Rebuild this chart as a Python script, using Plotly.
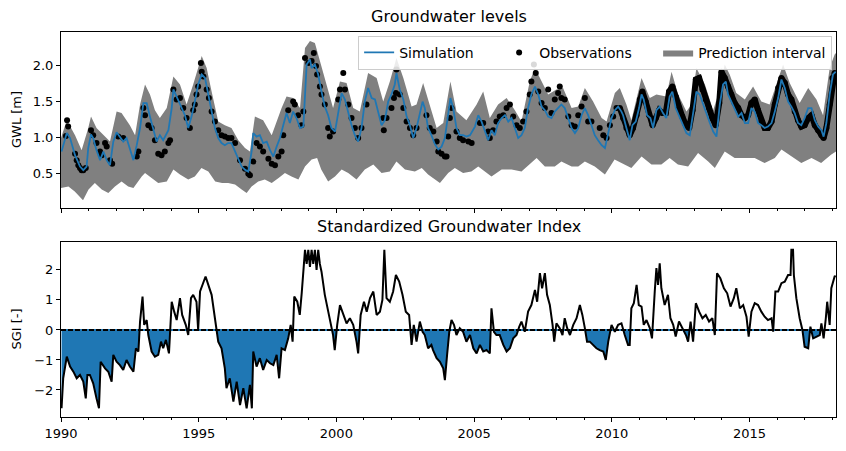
import numpy as np
import pandas as pd
import plotly.graph_objects as go

# ---------------- data (decimal years) -------------
sim_t = [1990.02, 1990.21, 1990.33, 1990.51, 1990.69, 1990.81, 1990.93, 1990.99, 1991.09, 1991.17,
         1991.29, 1991.42, 1991.54, 1991.66, 1991.78, 1991.9, 1992.02, 1992.14, 1992.26, 1992.38,
         1992.5, 1992.63, 1992.75, 1992.87, 1992.99, 1993.11, 1993.23, 1993.35, 1993.47, 1993.59,
         1993.71, 1993.9, 1994.02, 1994.08, 1994.2, 1994.32, 1994.5, 1994.62, 1994.74, 1994.86,
         1994.98, 1995.11, 1995.23, 1995.35, 1995.47, 1995.59, 1995.71, 1995.83, 1995.95, 1996.07,
         1996.19, 1996.38, 1996.56, 1996.7, 1996.8, 1996.92, 1996.98, 1997.1, 1997.22, 1997.34,
         1997.47, 1997.59, 1997.71, 1997.83, 1997.95, 1998.07, 1998.19, 1998.31, 1998.43, 1998.55,
         1998.68, 1998.8, 1998.92, 1999.04, 1999.1, 1999.22, 1999.34, 1999.46, 1999.58, 1999.7,
         1999.82, 1999.95, 2000.07, 2000.19, 2000.31, 2000.43, 2000.55, 2000.67, 2000.79, 2000.91,
         2001.03, 2001.15, 2001.28, 2001.4, 2001.52, 2001.64, 2001.76, 2001.88, 2002.0, 2002.12,
         2002.18, 2002.3, 2002.43, 2002.55, 2002.67, 2002.79, 2002.91, 2003.03, 2003.13, 2003.21,
         2003.33, 2003.45, 2003.58, 2003.7, 2003.82, 2003.94, 2004.06, 2004.14, 2004.24, 2004.36,
         2004.48, 2004.6, 2004.72, 2004.85, 2005.03, 2005.15, 2005.27, 2005.39, 2005.51, 2005.63,
         2005.75, 2005.87, 2006.0, 2006.12, 2006.24, 2006.36, 2006.48, 2006.6, 2006.72, 2006.84,
         2006.96, 2007.08, 2007.21, 2007.33, 2007.45, 2007.57, 2007.69, 2007.81, 2007.93, 2008.05,
         2008.17, 2008.29, 2008.42, 2008.54, 2008.66, 2008.78, 2008.9, 2009.02, 2009.14, 2009.26,
         2009.38, 2009.5, 2009.63, 2009.75, 2009.87, 2009.99, 2010.11, 2010.23, 2010.35, 2010.41,
         2010.53, 2010.65, 2010.75, 2010.87, 2010.99, 2011.08, 2011.16, 2011.28, 2011.4, 2011.5,
         2011.62, 2011.74, 2011.86, 2011.98, 2012.1, 2012.2, 2012.32, 2012.47, 2012.59, 2012.71,
         2012.83, 2012.95, 2013.07, 2013.19, 2013.31, 2013.44, 2013.56, 2013.68, 2013.8, 2013.92,
         2014.04, 2014.14, 2014.22, 2014.34, 2014.46, 2014.59, 2014.71, 2014.83, 2014.95, 2015.07,
         2015.19, 2015.31, 2015.43, 2015.55, 2015.67, 2015.8, 2015.92, 2016.04, 2016.16, 2016.28,
         2016.4, 2016.52, 2016.64, 2016.76, 2016.88, 2017.0, 2017.13, 2017.25, 2017.37, 2017.49,
         2017.61, 2017.69, 2017.79, 2017.91, 2018.03, 2018.13]
sim_v = [0.80, 1.06, 0.99, 0.75, 0.59, 0.54, 0.59, 0.85, 1.04, 0.99,
         0.82, 0.68, 0.80, 0.68, 0.61, 0.94, 1.07, 1.01, 0.94, 0.99,
         0.85, 0.68, 0.89, 1.13, 1.48, 1.48, 1.29, 1.13, 0.94, 1.03,
         0.96, 1.10, 1.41, 1.67, 1.57, 1.46, 1.31, 1.13, 1.29, 1.50,
         1.74, 1.88, 1.83, 1.60, 1.34, 1.13, 0.99, 0.92, 0.89, 0.92,
         0.92, 0.75, 0.59, 0.54, 0.52, 0.80, 1.06, 1.01, 1.03, 0.92,
         0.94, 0.82, 0.73, 0.87, 0.99, 1.17, 1.34, 1.20, 1.36, 1.27,
         1.13, 1.15, 2.02, 2.09, 1.97, 2.02, 1.88, 1.64, 1.43, 1.31,
         1.13, 1.08, 1.36, 1.62, 1.53, 1.34, 1.17, 1.03, 0.94, 1.13,
         1.50, 1.69, 1.55, 1.53, 1.36, 1.17, 1.24, 1.50, 1.60, 1.74,
         1.90, 1.67, 1.53, 1.29, 1.17, 0.99, 1.13, 1.36, 1.50, 1.41,
         1.13, 1.03, 0.90, 0.83, 0.87, 0.99, 1.31, 1.55, 1.41, 1.13,
         1.03, 1.03, 1.01, 1.03, 1.15, 1.31, 1.22, 1.10, 0.96, 1.10,
         1.03, 1.20, 1.27, 1.31, 1.22, 1.27, 1.13, 0.99, 1.03, 1.13,
         1.41, 1.60, 1.71, 1.60, 1.43, 1.38, 1.29, 1.27, 1.36, 1.41,
         1.46, 1.41, 1.27, 1.13, 1.06, 1.13, 1.31, 1.41, 1.31, 1.17,
         1.03, 0.96, 0.89, 0.85, 1.08, 1.27, 1.38, 1.43, 1.36, 1.31,
         1.13, 0.96, 1.17, 1.22, 1.41, 1.60, 1.53, 1.31, 1.27, 1.13,
         1.38, 1.43, 1.34, 1.27, 1.57, 1.64, 1.41, 1.27, 1.17, 1.06,
         1.03, 1.31, 1.64, 1.60, 1.46, 1.31, 1.20, 1.08, 1.01, 1.46,
         1.74, 1.78, 1.60, 1.50, 1.41, 1.29, 1.34, 1.20, 1.20, 1.41,
         1.36, 1.20, 1.17, 1.13, 1.15, 1.20, 1.36, 1.55, 1.81, 1.69,
         1.50, 1.43, 1.34, 1.20, 1.17, 1.27, 1.41, 1.41, 1.24, 1.15,
         1.10, 1.01, 1.20, 1.60, 1.88, 1.92]

pi_up_t = [1990.0, 1990.21, 1990.51, 1990.75, 1990.99, 1991.09, 1991.29, 1991.54, 1991.78, 1992.02,
           1992.2, 1992.5, 1992.69, 1992.87, 1993.05, 1993.23, 1993.41, 1993.59, 1993.84, 1994.08,
           1994.32, 1994.56, 1994.8, 1995.11, 1995.29, 1995.47, 1995.71, 1995.95, 1996.19, 1996.44,
           1996.68, 1996.86, 1997.04, 1997.34, 1997.65, 1998.01, 1998.19, 1998.43, 1998.68, 1998.86,
           1999.04, 1999.22, 1999.4, 1999.64, 1999.88, 2000.13, 2000.37, 2000.61, 2000.85, 2001.15,
           2001.46, 2001.7, 2001.94, 2002.18, 2002.43, 2002.73, 2002.91, 2003.15, 2003.39, 2003.64,
           2003.88, 2004.14, 2004.36, 2004.72, 2005.09, 2005.33, 2005.57, 2005.87, 2006.18, 2006.48,
           2006.72, 2007.02, 2007.21, 2007.39, 2007.69, 2007.99, 2008.23, 2008.54, 2008.78, 2009.02,
           2009.32, 2009.63, 2009.81, 2010.11, 2010.29, 2010.53, 2010.71, 2011.08, 2011.38, 2011.62,
           2011.98, 2012.17, 2012.41, 2012.71, 2012.89, 2013.07, 2013.38, 2013.68, 2013.86, 2014.1,
           2014.28, 2014.52, 2014.83, 2015.13, 2015.43, 2015.73, 2015.98, 2016.22, 2016.46, 2016.82,
           2017.13, 2017.43, 2017.67, 2017.91, 2018.09, 2018.14]
pi_up_v = [0.99, 1.24, 1.03, 0.82, 1.13, 1.29, 1.13, 1.03, 0.94, 1.36,
           1.34, 1.17, 1.03, 1.46, 1.74, 1.60, 1.38, 1.27, 1.41, 1.85,
           1.74, 1.46, 1.74, 2.14, 1.97, 1.64, 1.22, 1.17, 1.13, 0.96,
           0.85, 0.80, 1.29, 1.24, 1.03, 1.41, 1.57, 1.55, 1.41, 2.25,
           2.35, 2.32, 2.07, 1.74, 1.41, 1.78, 1.76, 1.41, 1.36, 1.90,
           1.83, 1.50, 1.78, 2.11, 1.83, 1.43, 1.46, 1.76, 1.46, 1.13,
           1.20, 1.78, 1.36, 1.24, 1.46, 1.64, 1.27, 1.46, 1.55, 1.38,
           1.22, 1.78, 1.97, 1.83, 1.60, 1.67, 1.69, 1.41, 1.43, 1.69,
           1.50, 1.27, 1.22, 1.62, 1.69, 1.46, 1.24, 1.83, 1.55, 1.60,
           1.57, 1.92, 1.60, 1.36, 1.46, 1.97, 1.74, 1.38, 1.60, 2.02,
           1.88, 1.62, 1.53, 1.71, 1.50, 1.46, 1.74, 2.02, 1.76, 1.48,
           1.69, 1.53, 1.31, 1.97, 2.16, 2.18]

pi_lo_t = [1990.0, 1990.27, 1990.5, 1990.8, 1991.0, 1991.23, 1991.48, 1991.72, 1991.96, 1992.2,
           1992.44, 1992.63, 1992.93, 1993.05, 1993.3, 1993.53, 1993.84, 1994.08, 1994.32, 1994.62,
           1994.86, 1995.1, 1995.35, 1995.6, 1995.85, 1996.07, 1996.32, 1996.56, 1996.74, 1996.92,
           1997.16, 1997.4, 1997.65, 1997.9, 1998.13, 1998.37, 1998.62, 1998.86, 1999.1, 1999.3,
           1999.45, 1999.7, 1999.95, 2000.19, 2000.43, 2000.73, 2001.03, 2001.34, 2001.64, 2001.94,
           2002.18, 2002.49, 2002.85, 2003.1, 2003.33, 2003.76, 2004.06, 2004.3, 2004.6, 2004.9,
           2005.15, 2005.39, 2005.63, 2006.0, 2006.36, 2006.72, 2007.08, 2007.27, 2007.57, 2007.93,
           2008.17, 2008.54, 2008.78, 2009.02, 2009.38, 2009.75, 2010.1, 2010.47, 2010.71, 2011.08,
           2011.44, 2011.8, 2012.1, 2012.4, 2012.77, 2013.13, 2013.5, 2013.74, 2014.1, 2014.46,
           2014.83, 2015.19, 2015.55, 2015.92, 2016.16, 2016.52, 2016.88, 2017.25, 2017.6, 2017.97,
           2018.14]
pi_lo_v = [0.29, 0.31, 0.24, 0.12, 0.27, 0.36, 0.27, 0.22, 0.31, 0.38,
           0.31, 0.29, 0.45, 0.50, 0.43, 0.36, 0.38, 0.55, 0.48, 0.41,
           0.45, 0.57, 0.52, 0.38, 0.36, 0.36, 0.34, 0.27, 0.22, 0.31,
           0.38, 0.41, 0.36, 0.43, 0.50, 0.45, 0.41, 0.59, 0.69, 0.71,
           0.55, 0.38, 0.45, 0.55, 0.50, 0.41, 0.55, 0.62, 0.50, 0.52,
           0.66, 0.55, 0.52, 0.57, 0.48, 0.36, 0.50, 0.57, 0.50, 0.52,
           0.59, 0.52, 0.45, 0.55, 0.55, 0.52, 0.64, 0.71, 0.59, 0.59,
           0.66, 0.59, 0.59, 0.66, 0.59, 0.48, 0.69, 0.62, 0.57, 0.73,
           0.62, 0.62, 0.71, 0.62, 0.59, 0.78, 0.66, 0.57, 0.80, 0.71,
           0.71, 0.71, 0.64, 0.71, 0.83, 0.73, 0.64, 0.71, 0.64, 0.76,
           0.80]

obs_t = [1990.18, 1990.22, 1990.26, 1990.51, 1990.57, 1990.63, 1990.69, 1990.75, 1990.81, 1990.9,
         1991.09, 1991.17, 1991.29, 1991.42, 1991.48, 1991.6, 1991.66, 1991.78, 1991.86, 1992.08,
         1992.26, 1992.75, 1992.81, 1992.99, 1993.05, 1993.17, 1993.29, 1993.41, 1993.53, 1993.65,
         1993.77, 1993.9, 1993.96, 1994.08, 1994.2, 1994.32, 1994.44, 1994.56, 1994.68, 1994.8,
         1994.86, 1994.92, 1994.98, 1995.08, 1995.11, 1995.17, 1995.29, 1995.37, 1995.47, 1995.59,
         1995.71, 1995.83, 1995.95, 1996.07, 1996.19, 1996.32, 1996.5, 1996.68, 1996.8, 1996.86,
         1996.98, 1997.1, 1997.22, 1997.34, 1997.53, 1997.65, 1997.77, 1997.89, 1998.01, 1998.07,
         1998.25, 1998.43, 1998.49, 1998.61, 1998.73, 1998.8, 1998.86, 1998.98, 1999.1, 1999.18,
         1999.26, 1999.3, 1999.4, 1999.46, 1999.58, 1999.7, 1999.76, 1999.88, 2000.07, 2000.13,
         2000.25, 2000.31, 2000.43, 2000.55, 2000.67, 2000.79, 2000.91, 2001.09, 2001.7, 2001.72,
         2001.82, 2002.0, 2002.09, 2002.16, 2002.18, 2002.3, 2002.43, 2002.55, 2002.67, 2002.79,
         2002.91, 2003.27, 2003.39, 2003.52, 2003.64, 2003.7, 2003.82, 2003.94, 2004.0, 2004.06,
         2004.12, 2004.18, 2004.36, 2004.48, 2004.6, 2004.79, 2004.91, 2005.21, 2005.33, 2005.51,
         2005.57, 2005.69, 2005.81, 2005.93, 2006.06, 2006.18, 2006.3, 2006.42, 2006.54, 2006.66,
         2006.78, 2006.9, 2007.02, 2007.08, 2007.17, 2007.24, 2007.33, 2007.45, 2007.57, 2007.69,
         2007.81, 2007.93, 2008.05, 2008.11, 2008.17, 2008.29, 2008.42, 2008.54, 2008.66, 2008.78,
         2008.9, 2009.02, 2009.14, 2009.26, 2009.56, 2009.69, 2009.81, 2009.93, 2010.05, 2010.17]
obs_v = [1.02, 1.24, 1.15, 0.77, 0.68, 0.61, 0.57, 0.54, 0.54, 0.57,
         1.10, 1.03, 0.92, 0.80, 0.75, 0.92, 0.87, 0.68, 0.63, 1.01,
         0.99, 0.73, 0.80, 1.41, 1.31, 1.17, 1.13, 0.96, 0.77, 0.75,
         0.80, 0.92, 0.96, 1.67, 1.53, 1.55, 1.41, 1.27, 1.13, 1.38,
         1.46, 1.60, 1.71, 2.04, 1.92, 1.85, 1.67, 1.55, 1.36, 1.22,
         1.10, 1.03, 1.01, 0.99, 0.99, 0.92, 0.68, 0.56, 0.49, 0.47,
         0.66, 0.92, 0.87, 0.80, 0.70, 0.63, 0.61, 0.73, 0.80, 1.03,
         1.38, 1.50, 1.46, 1.31, 1.17, 1.36, 2.11, 2.04, 2.07, 2.18,
         2.00, 1.88, 1.71, 1.60, 1.46, 1.13, 1.01, 1.08, 1.53, 1.67,
         1.90, 1.67, 1.46, 1.27, 1.13, 0.99, 1.13, 1.46, 1.27, 1.10,
         1.27, 1.41, 1.55, 1.62, 1.95, 1.60, 1.41, 1.22, 1.13, 1.03,
         1.13, 1.31, 1.13, 1.08, 0.94, 0.80, 0.77, 0.73, 0.73, 1.01,
         1.27, 1.41, 1.08, 0.99, 0.96, 0.94, 0.92, 1.20, 1.20, 1.08,
         0.99, 1.10, 1.22, 1.29, 1.31, 1.41, 1.46, 1.29, 1.17, 1.13,
         1.22, 1.36, 1.60, 1.78, 2.02, 1.90, 1.64, 1.48, 1.41, 1.67,
         1.34, 1.53, 1.62, 1.71, 1.55, 1.53, 1.29, 1.17, 1.15, 1.31,
         1.43, 1.55, 1.22, 1.22, 1.13, 1.03, 0.99, 1.17, 1.29, 1.41]

# dense (daily-logger) observations, read roughly every 1.5 months
obs_dense_t = [2010.29, 2010.41, 2010.53, 2010.65, 2010.77, 2010.9, 2011.02, 2011.11, 2011.23, 2011.35,
               2011.48, 2011.6, 2011.72, 2011.84, 2011.96, 2012.08, 2012.2, 2012.32, 2012.44, 2012.56,
               2012.69, 2012.81, 2012.93, 2013.05, 2013.17, 2013.29, 2013.41, 2013.53, 2013.65, 2013.77,
               2013.9, 2013.98, 2014.1, 2014.22, 2014.34, 2014.46, 2014.59, 2014.71, 2014.83, 2014.95,
               2015.07, 2015.19, 2015.31, 2015.43, 2015.55, 2015.67, 2015.8, 2015.92, 2016.04, 2016.16,
               2016.28, 2016.4, 2016.52, 2016.64, 2016.76, 2016.88, 2017.0, 2017.13, 2017.25, 2017.37,
               2017.49, 2017.61, 2017.69, 2017.79, 2017.91, 2018.01, 2018.09]
obs_dense_v = [1.41, 1.27, 1.13, 1.03, 1.13, 1.31, 1.53, 1.64, 1.50, 1.31,
               1.17, 1.27, 1.38, 1.34, 1.34, 1.64, 1.71, 1.57, 1.41, 1.29,
               1.17, 1.13, 1.38, 1.81, 1.83, 1.67, 1.53, 1.41, 1.27, 1.17,
               1.48, 1.92, 1.83, 1.71, 1.60, 1.48, 1.41, 1.31, 1.27, 1.31,
               1.48, 1.53, 1.38, 1.22, 1.13, 1.13, 1.22, 1.46, 1.69, 1.83,
               1.76, 1.60, 1.53, 1.36, 1.24, 1.15, 1.17, 1.27, 1.31, 1.17,
               1.10, 1.03, 0.99, 1.13, 1.46, 1.83, 1.90]

sgi_t = [1990.02, 1990.08, 1990.21, 1990.33, 1990.45, 1990.57, 1990.69, 1990.81, 1990.9, 1990.96,
         1991.05, 1991.17, 1991.29, 1991.38, 1991.44, 1991.6, 1991.72, 1991.84, 1991.9, 1992.02,
         1992.14, 1992.26, 1992.38, 1992.5, 1992.63, 1992.72, 1992.81, 1992.87, 1992.96, 1993.02,
         1993.11, 1993.17, 1993.29, 1993.41, 1993.53, 1993.63, 1993.71, 1993.81, 1993.92, 1994.02,
         1994.11, 1994.2, 1994.32, 1994.4, 1994.53, 1994.62, 1994.72, 1994.8, 1994.92, 1994.98,
         1995.05, 1995.17, 1995.25, 1995.35, 1995.47, 1995.59, 1995.71, 1995.83, 1995.95, 1996.01,
         1996.13, 1996.26, 1996.38, 1996.5, 1996.62, 1996.74, 1996.86, 1996.93, 1996.98, 1997.1,
         1997.22, 1997.34, 1997.47, 1997.59, 1997.71, 1997.83, 1997.92, 1998.01, 1998.13, 1998.25,
         1998.34, 1998.41, 1998.47, 1998.58, 1998.67, 1998.74, 1998.8, 1998.86, 1998.92, 1998.98,
         1999.04, 1999.1, 1999.16, 1999.22, 1999.28, 1999.34, 1999.4, 1999.46, 1999.58, 1999.7,
         1999.79, 1999.88, 1999.94, 2000.03, 2000.13, 2000.25, 2000.37, 2000.49, 2000.61, 2000.73,
         2000.79, 2000.88, 2001.0, 2001.1, 2001.22, 2001.34, 2001.46, 2001.58, 2001.67, 2001.74,
         2001.82, 2001.94, 2002.06, 2002.16, 2002.28, 2002.4, 2002.52, 2002.64, 2002.73, 2002.81,
         2002.91, 2003.03, 2003.13, 2003.21, 2003.33, 2003.45, 2003.51, 2003.64, 2003.76, 2003.88,
         2003.94, 2004.02, 2004.1, 2004.18, 2004.27, 2004.36, 2004.48, 2004.6, 2004.72, 2004.85,
         2004.97, 2005.09, 2005.21, 2005.33, 2005.45, 2005.57, 2005.63, 2005.72, 2005.81, 2005.93,
         2006.06, 2006.18, 2006.3, 2006.42, 2006.54, 2006.64, 2006.72, 2006.84, 2006.96, 2007.08,
         2007.21, 2007.29, 2007.39, 2007.47, 2007.57, 2007.65, 2007.75, 2007.85, 2007.91, 2007.99,
         2008.11, 2008.21, 2008.29, 2008.38, 2008.48, 2008.6, 2008.72, 2008.84, 2008.93, 2009.02,
         2009.1, 2009.2, 2009.32, 2009.44, 2009.56, 2009.69, 2009.78, 2009.87, 2009.99, 2010.11,
         2010.23, 2010.35, 2010.47, 2010.59, 2010.65, 2010.71, 2010.8, 2010.9, 2010.98, 2011.08,
         2011.16, 2011.26, 2011.38, 2011.46, 2011.56, 2011.62, 2011.68, 2011.74, 2011.8, 2011.92,
         2012.04, 2012.13, 2012.23, 2012.32, 2012.44, 2012.56, 2012.69, 2012.77, 2012.86, 2012.95,
         2013.05, 2013.17, 2013.29, 2013.41, 2013.53, 2013.65, 2013.74, 2013.82, 2013.94, 2014.07,
         2014.19, 2014.31, 2014.43, 2014.52, 2014.65, 2014.77, 2014.89, 2014.97, 2015.07, 2015.19,
         2015.31, 2015.43, 2015.55, 2015.67, 2015.8, 2015.86, 2015.94, 2016.04, 2016.16, 2016.28,
         2016.4, 2016.49, 2016.52, 2016.58, 2016.61, 2016.7, 2016.82, 2016.92, 2017.0, 2017.13,
         2017.21, 2017.31, 2017.43, 2017.55, 2017.61, 2017.69, 2017.77, 2017.82, 2017.91, 2017.97,
         2018.09, 2018.13]
sgi_v = [-2.61, -1.61, -0.89, -1.22, -1.39, -1.61, -1.50, -1.72, -2.28, -1.50,
         -1.50, -1.78, -2.28, -2.61, -1.06, -1.28, -1.39, -1.72, -0.83, -1.06,
         -1.17, -1.33, -1.00, -1.22, -1.39, -0.61, -0.72, 0.28, 1.11, 0.17,
         0.33, -0.17, -0.72, -0.89, -0.83, -0.39, -0.61, -0.33, -0.78, 0.94,
         0.61, 0.33, 1.06, 0.50, 0.17, -0.17, 1.06, 1.17, 0.94, 0.00,
         1.28, 1.61, 1.78, 1.50, 1.17, 0.39, -0.39, -0.61, -1.28, -1.94,
         -1.61, -2.39, -1.72, -2.50, -1.94, -2.61, -1.83, -2.61, -0.72, -1.22,
         -0.94, -1.33, -1.00, -1.11, -1.17, -0.83, -1.61, -0.61, -0.67, -0.28,
         0.17, -0.39, 1.11, 0.94, 0.50, 1.22, 1.94, 2.67, 2.20, 2.67,
         2.10, 2.67, 2.20, 2.67, 2.00, 2.67, 2.20, 1.94, 1.17, 0.61,
         0.17, -0.17, -0.67, 0.17, 0.83, 0.50, 0.22, 0.39, 0.17, -0.39,
         -0.78, 0.50, 0.94, 0.61, 1.06, 1.28, 0.50, 0.61, 1.00, 2.67,
         1.06, 0.94, 1.28, 1.83, 1.61, 1.17, 0.61, 0.50, -0.50, 0.17,
         -0.39, 0.28, -0.06, -0.17, -0.61, -0.50, -0.67, -0.94, -1.06, -1.28,
         -1.67, -0.83, -0.06, 0.33, 0.17, -0.17, 0.06, -0.06, -0.39, -0.17,
         -0.61, -0.78, -0.50, -0.72, -0.67, -0.78, 0.72, -0.06, -0.17, -0.17,
         -0.50, -0.72, -0.61, -0.28, -0.17, 0.11, 0.28, -0.06, 0.61, 0.83,
         1.33, 0.94, 1.89, 1.39, 1.89, 1.17, 0.83, 0.17, -0.39, 0.22,
         0.06, -0.17, 0.39, 0.06, -0.17, 0.17, 0.39, 0.83, 0.50, 0.06,
         -0.39, -0.39, -0.50, -0.61, -0.67, -0.72, -1.00, -0.39, 0.17, -0.06,
         0.17, 0.22, -0.17, -0.50, -0.50, 0.72, 0.89, 1.50, 0.83, 0.78,
         0.17, 0.33, 0.06, -0.28, 1.28, 2.06, 1.50, 2.22, 1.39, 0.83,
         1.17, 0.39, 0.17, -0.22, 0.28, 0.06, -0.17, -0.39, 0.28, -0.39,
         0.89, 0.61, 0.39, 0.50, 0.28, 0.39, -0.17, 1.89, 1.72, 1.39,
         1.22, 0.78, 1.06, 1.39, 0.72, 0.83, 0.44, -0.22, 0.61, 0.89,
         0.83, 0.61, 0.44, 0.33, 0.39, -0.06, 1.28, 1.28, 1.56, 1.61,
         1.83, 1.83, 2.67, 2.67, 1.83, 1.06, 0.39, 0.00, -0.56, -0.61,
         0.11, -0.28, -0.22, -0.17, 0.22, -0.28, 0.39, 0.94, 0.17, 1.39,
         1.78, 1.80]


# ---------------- helpers ----------------
def to_dates(years):
    out = []
    for y in years:
        yi = int(np.floor(y))
        start = pd.Timestamp(year=yi, month=1, day=1)
        end = pd.Timestamp(year=yi + 1, month=1, day=1)
        out.append(start + (y - yi) * (end - start))
    return out


def neg_part(t, v):
    """Negative part of a series with zero crossings inserted (for the fill)."""
    tt, vv = [], []
    for i in range(len(t)):
        if i > 0 and (v[i - 1] < 0) != (v[i] < 0) and v[i] != v[i - 1]:
            f = v[i - 1] / (v[i - 1] - v[i])
            tt.append(t[i - 1] + f * (t[i] - t[i - 1]))
            vv.append(0.0)
        tt.append(t[i])
        vv.append(min(v[i], 0.0))
    return tt, vv


FONT = "DejaVu Sans"
BLUE = "#1f77b4"
GRAY = "#808080"

fig = go.Figure()

# prediction interval polygon
band_x = to_dates(pi_up_t) + to_dates(pi_lo_t)[::-1]
band_y = list(pi_up_v) + list(pi_lo_v)[::-1]
fig.add_trace(go.Scatter(x=band_x, y=band_y, fill="toself", fillcolor=GRAY,
                         line=dict(width=0, color=GRAY), mode="lines",
                         name="Prediction interval", legendrank=3,
                         xaxis="x", yaxis="y"))
# observations
fig.add_trace(go.Scatter(x=to_dates(obs_t + obs_dense_t), y=obs_v + obs_dense_v,
                         mode="markers", marker=dict(color="black", size=6),
                         name="Observations", legendrank=2, legendwidth=114,
                         xaxis="x", yaxis="y"))
# the daily record merges into a thick black band
fig.add_trace(go.Scatter(x=to_dates(obs_dense_t), y=obs_dense_v, mode="lines",
                         line=dict(color="black", width=6), showlegend=False,
                         xaxis="x", yaxis="y"))
# simulation
fig.add_trace(go.Scatter(x=to_dates(sim_t), y=sim_v, mode="lines",
                         line=dict(color=BLUE, width=1.8),
                         name="Simulation", legendrank=1, legendwidth=95,
                         xaxis="x", yaxis="y"))

# SGI negative fill
nt, nv = neg_part(sgi_t, sgi_v)
fig.add_trace(go.Scatter(x=to_dates(nt), y=nv, mode="lines", fill="tozeroy",
                         fillcolor=BLUE, line=dict(width=0, color=BLUE),
                         showlegend=False, xaxis="x2", yaxis="y2"))
# zero line (blue under black dashes)
x_ends = to_dates([1990.0, 2018.14])
fig.add_trace(go.Scatter(x=x_ends, y=[0, 0], mode="lines",
                         line=dict(color=BLUE, width=2), showlegend=False,
                         xaxis="x2", yaxis="y2"))
fig.add_trace(go.Scatter(x=x_ends, y=[0, 0], mode="lines",
                         line=dict(color="black", width=2, dash="5px,2px"),
                         showlegend=False, xaxis="x2", yaxis="y2"))
# SGI line
fig.add_trace(go.Scatter(x=to_dates(sgi_t), y=sgi_v, mode="lines",
                         line=dict(color="black", width=2), showlegend=False,
                         xaxis="x2", yaxis="y2"))

xr = [pd.Timestamp("1990-01-01"), to_dates([2018.14])[0]]
common_x = dict(range=xr, type="date", showline=True, linecolor="black", linewidth=1,
                mirror=True, ticks="outside", ticklen=4, tickcolor="black",
                dtick="M60", tick0="1990-01-01", tickformat="%Y", showgrid=False,
                zeroline=False,
                minor=dict(ticks="outside", ticklen=2, dtick="M12", tick0="1990-01-01",
                           tickcolor="black", showgrid=False))
common_y = dict(showline=True, linecolor="black", linewidth=1, mirror=True,
                ticks="outside", ticklen=4, tickcolor="black", showgrid=False,
                zeroline=False, tickfont=dict(size=13, color="black"))

top_lo = (417 - 208) / 385
bot_hi = (417 - 242) / 385

fig.update_layout(
    width=846, height=451,
    margin=dict(l=61, r=10, t=32, b=34),
    paper_bgcolor="white", plot_bgcolor="white",
    font=dict(family=FONT, color="black", size=13),
    xaxis=dict(common_x, domain=[0, 1], anchor="y", showticklabels=False, matches="x2"),
    yaxis=dict(common_y, domain=[top_lo, 1], anchor="x", range=[0.01, 2.475],
               tickvals=[0.5, 1.0, 1.5, 2.0], tickformat=".1f"),
    xaxis2=dict(common_x, domain=[0, 1], anchor="y2", tickfont=dict(size=13, color="black")),
    yaxis2=dict(common_y, domain=[0, bot_hi], anchor="x2", range=[-2.9, 2.93],
                tickvals=[-2, -1, 0, 1, 2]),
    showlegend=True,
    legend=dict(orientation="h", x=0.995, xanchor="right", y=0.99, yanchor="top",
                bgcolor="rgba(255,255,255,0.85)", bordercolor="#cccccc", borderwidth=1,
                font=dict(size=14, color="black"),
                traceorder="normal", tracegroupgap=0),
    annotations=[
        dict(text="Groundwater levels", x=0.5, y=1.0, xref="paper", yref="paper",
             xanchor="center", yanchor="bottom", yshift=4, showarrow=False,
             font=dict(size=16, color="black")),
        dict(text="Standardized Groundwater Index", x=0.5, y=bot_hi, xref="paper",
             yref="paper", xanchor="center", yanchor="bottom", yshift=4, showarrow=False,
             font=dict(size=16, color="black")),
        dict(text="GWL [m]", x=-0.058, y=(top_lo + 1) / 2, xref="paper", yref="paper",
             textangle=-90, xanchor="center", yanchor="middle", showarrow=False,
             font=dict(size=13, color="black")),
        dict(text="SGI [-]", x=-0.058, y=bot_hi / 2, xref="paper", yref="paper",
             textangle=-90, xanchor="center", yanchor="middle", showarrow=False,
             font=dict(size=13, color="black")),
    ],
)

fig.write_html("out.html")
